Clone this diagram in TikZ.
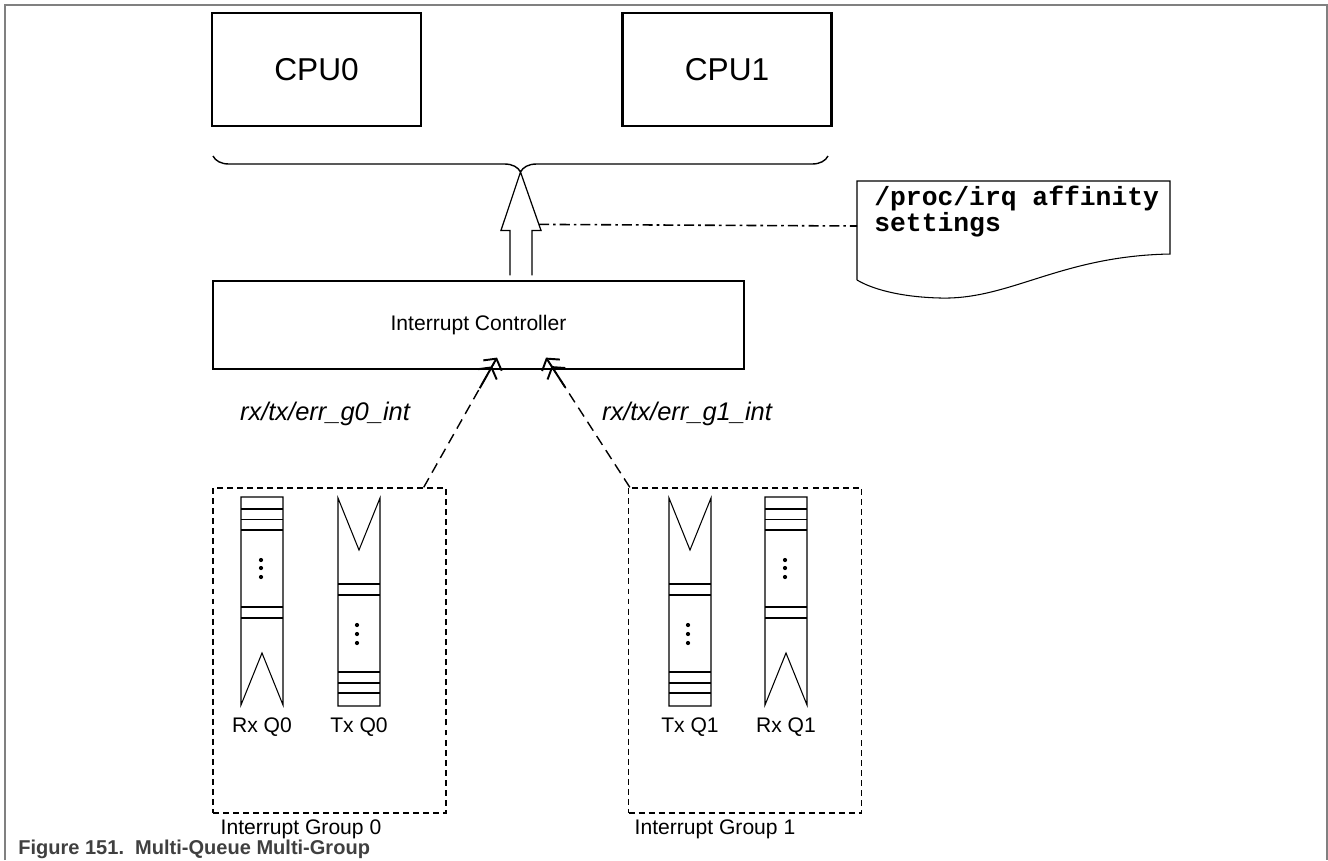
\documentclass[tikz,border=0pt]{standalone}
\usepackage{fontspec}
\setmainfont{Liberation Sans}
\setmonofont{Liberation Mono}
\usetikzlibrary{arrows.meta,positioning,decorations.pathreplacing,calc}
\definecolor{framegray}{RGB}{128,128,128}
\definecolor{captiongray}{RGB}{64,64,64}

\begin{document}
\begin{tikzpicture}[
    x=0.02cm, y=-0.02cm,
    cpu/.style={draw, line width=1.3pt, minimum width=4.18cm, minimum height=2.26cm, font=\fontsize{18}{22}\selectfont},
    ctrlbox/.style={draw, line width=0.7pt, minimum width=10.62cm, minimum height=1.76cm, font=\fontsize{12}{14}\selectfont},
    grpbox/.style={draw, line width=0.8pt, dash pattern=on 3.4pt off 2.3pt, minimum width=4.66cm, minimum height=6.5cm},
    lbl/.style={font=\fontsize{12}{14}\selectfont},
    intlbl/.style={font=\fontsize{14.5}{16}\selectfont\itshape},
    doctext/.style={font=\fontsize{15}{14.8}\selectfont\ttfamily\bfseries, align=left, inner sep=0pt},
    irq/.style={line width=0.8pt, dash pattern=on 6pt off 3.6pt, shorten >=3pt},
    irqhead/.style={line width=1.1pt, -{Straight Barb[length=4.5pt,width=12pt]Straight Barb[length=4.5pt,width=12pt]}},
    linkline/.style={line width=0.9pt, dash pattern=on 5.7pt off 2.3pt on 1.5pt off 2.3pt},
    fatarr/.style={line width=0.7pt},
    qline/.style={line width=0.6pt},
    rxq/.pic={
      \draw[qline] (0,208) -- (0,0) -- (42,0) -- (42,208) -- (21,156) -- cycle;
      \foreach \y in {12,22.5,33,110,121} \draw[qline] (0,\y) -- (42,\y);
      \foreach \y in {63,71,80} \fill (20,\y) circle (1.2pt);
    },
    txq/.pic={
      \draw[qline] (0,0) -- (21,52) -- (42,0) -- (42,208) -- (0,208) -- cycle;
      \foreach \y in {86,97,174,185,195} \draw[qline] (0,\y) -- (42,\y);
      \foreach \y in {127,136,145} \fill (19,\y) circle (1.2pt);
    }
  ]
  \useasboundingbox (0,0) rectangle (1328,860);
  % figure frame
  \draw[framegray, line width=1pt] (5,860) -- (5,5) -- (1327,5) -- (1327,860);

  \node[cpu] (cpu0) at (316.5,69.5) {CPU0};
  \node[cpu] (cpu1) at (727,69.5) {CPU1};

  % brace under the cpus
  \coordinate (brL) at (213,156);
  \coordinate (brR) at (828,156);
  \coordinate (brTip) at (520.5,172);
  \draw[line width=0.8pt, decorate, decoration={brace, amplitude=0.32cm}] (brR) -- (brL);

  \node[ctrlbox] (ctrl) at (478.5,325) {Interrupt Controller};

  % hollow arrow up to the cpus
  \coordinate (arrbase) at ($(ctrl.north)+(42.5,-5)$);
  \draw[fatarr] ($(arrbase)+(-11,0)$) -- ($(arrbase)+(-11,-45)$) -- ($(arrbase)+(-20,-45)$) -- (brTip)
    -- ($(arrbase)+(20,-45)$) -- ($(arrbase)+(11,-45)$) -- ($(arrbase)+(11,0)$);
  \coordinate (hdR) at ($(arrbase)+(18,-51)$);

  % affinity note
  \coordinate (docNW) at (857,181);
  \coordinate (docW) at (857,226);
  \node[doctext, anchor=north west] (affty) at (874,186) {/proc/irq affinity\\settings};
  \draw[line width=0.6pt] (857,280) -- (docNW) -- (1170,181) -- (1170,254)
    .. controls (1060,256) and (1010,300) .. (940,298)
    .. controls (900,297) and (872,289) .. (857,280);
  \draw[linkline] (hdR) -- (docW);

  % interrupt groups
  \node[grpbox] (grp0) at (329.5,650.5) {};
  \node[grpbox] (grp1) at (745,650.5) {};
  \node[lbl] (grp0lbl) at (301,829) {Interrupt Group 0};
  \node[lbl] (grp1lbl) at (715,829) {Interrupt Group 1};

  \pic (rxq0) at (241,497) {rxq};
  \pic (txq0) at (338,498) {txq};
  \pic (txq1) at (669,498) {txq};
  \pic (rxq1) at (765,497) {rxq};
  \node[lbl] (rxq0lbl) at (262,727) {Rx Q0};
  \node[lbl] (txq0lbl) at (359,727) {Tx Q0};
  \node[lbl] (txq1lbl) at (690,727) {Tx Q1};
  \node[lbl] (rxq1lbl) at (786,727) {Rx Q1};

  % interrupt lines from the groups
  \coordinate (g0src) at ([xshift=-0.46cm]grp0.north east);
  \coordinate (g1src) at ([xshift=0.04cm]grp1.north west);
  \coordinate (g0dst) at ($(ctrl.south)+(18.5,-12)$);
  \coordinate (g1dst) at ($(ctrl.south)+(67.5,-12)$);
  \draw[irq] (g0src) -- (g0dst);
  \draw[irq] (g1src) -- (g1dst);
  \draw[irqhead] ($(g0dst)!20pt!(g0src)$) -- (g0dst);
  \draw[irqhead] ($(g1dst)!20pt!(g1src)$) -- (g1dst);
  \node[intlbl] (g0int) at (325,414) {rx/tx/err\_g0\_int};
  \node[intlbl] (g1int) at (687,414) {rx/tx/err\_g1\_int};

  \node[anchor=west, inner sep=0pt, text=captiongray, font=\fontsize{11.4}{13}\selectfont\bfseries] (caption) at (18,849) {Figure 151.\ \ Multi-Queue Multi-Group};
\end{tikzpicture}
\end{document}
